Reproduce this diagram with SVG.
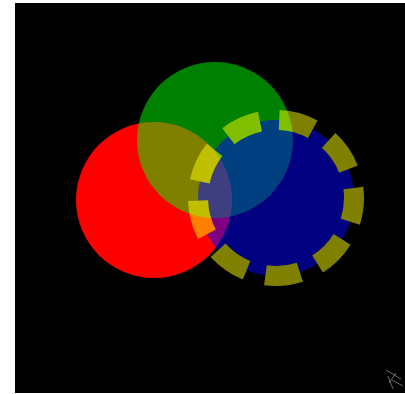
<svg xmlns="http://www.w3.org/2000/svg" width="405" height="394" viewBox="0 0 405 394">
  <style>
    .c { stroke: none; }
  </style>
  <rect x="0" y="0" width="405" height="394" fill="#ffffff"/>
  <rect x="15" y="3" width="390" height="390" fill="#000000"/>
  <g id="red">
    <circle class="c" cx="154" cy="200" r="78" fill="#ff0000"/>
  </g>
  <g id="green">
    <circle class="c" cx="215" cy="140" r="78" fill="#00ff00" opacity="0.5"/>
  </g>
  <g id="blue" opacity="0.5">
    <circle cx="276" cy="198" r="78" fill="#0000ff" stroke="#ffff00" stroke-width="20" stroke-dasharray="35 19.454" stroke-dashoffset="10.9"/>
  </g>
  <g id="cursor" fill="none" stroke="#9a9a9a" stroke-width="1" opacity="0.7">
    <path d="M386 370 L401 379 M388 376 L393 389 M392 380 L403 386 M396 373 L389 383"/>
  </g>
</svg>
